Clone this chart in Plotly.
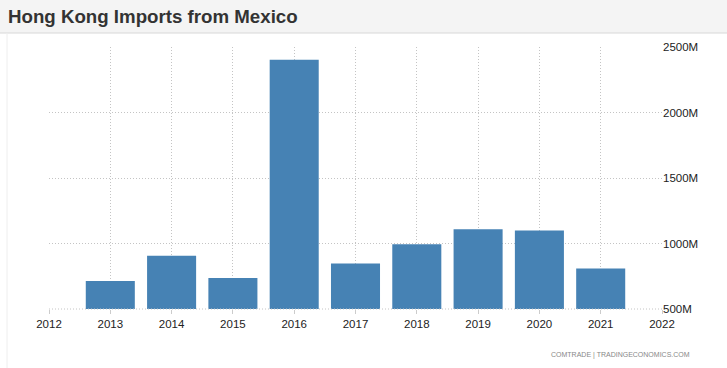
import plotly.graph_objects as go

years = [2013, 2014, 2015, 2016, 2017, 2018, 2019, 2020, 2021]
imports_musd = [714, 907, 737, 2403, 848, 995, 1108, 1100, 810]
x_ticks = list(range(2012, 2023))
y_ticks = [500, 1000, 1500, 2000, 2500]
y_tick_labels = [f"{v}M" for v in y_ticks]

W, H = 727, 368
L, R, T, B = 49, 65, 47, 59
pw, ph = W - L - R, H - T - B

def px_x(X):
    return (X - L) / pw

def px_y(Y):
    return (H - B - Y) / ph

fig = go.Figure()
fig.add_trace(go.Bar(
    x=years, y=imports_musd, width=0.8,
    marker=dict(color="#4682b4", line=dict(width=0)),
    hoverinfo="x+y",
))

font_main = "Liberation Sans Narrow, Arial Narrow, Liberation Sans, Arial, sans-serif"
grid_dash = "1px,2px"

fig.update_layout(
    width=W, height=H,
    margin=dict(l=L, r=R, t=T, b=B),
    paper_bgcolor="white", plot_bgcolor="white",
    showlegend=False,
    title=dict(
        text="<b>Hong Kong Imports from Mexico</b>",
        x=8 / W, xanchor="left", xref="container",
        y=1 - 16 / H, yanchor="middle", yref="container",
        font=dict(family="Liberation Sans, Arial, sans-serif", size=18.7, color="#333333"),
    ),
    xaxis=dict(
        range=[2012, 2022], tickvals=x_ticks, ticktext=[str(v) for v in x_ticks],
        showgrid=True, gridcolor="#c4c4c4", griddash=grid_dash, gridwidth=1,
        zeroline=False, showline=False,
        ticks="outside", ticklen=4, tickcolor="#cccccc",
        tickfont=dict(family=font_main, size=11.5, color="#222222"),
        fixedrange=True,
    ),
    yaxis=dict(
        range=[500, 2500], tickvals=y_ticks, ticktext=y_tick_labels, side="right",
        showgrid=True, gridcolor="#c4c4c4", griddash=grid_dash, gridwidth=1,
        zeroline=False, showline=False,
        tickfont=dict(family=font_main, size=11.5, color="#222222"),
        fixedrange=True,
    ),
    shapes=[
        dict(type="rect", xref="paper", yref="paper",
             x0=px_x(0), x1=px_x(W), y0=px_y(33), y1=px_y(0),
             fillcolor="#f4f4f4", line=dict(width=0), layer="below"),
        dict(type="line", xref="paper", yref="paper",
             x0=px_x(0), x1=px_x(W), y0=px_y(33), y1=px_y(33),
             line=dict(color="#d8d8d8", width=1)),
        dict(type="line", xref="paper", yref="paper",
             x0=px_x(7), x1=px_x(7), y0=px_y(H), y1=px_y(33),
             line=dict(color="#eeeeee", width=1)),
        dict(type="line", xref="paper", yref="paper",
             x0=0, x1=1, y0=0, y1=0,
             line=dict(color="#c4c4c4", width=1, dash=grid_dash)),
    ],
    annotations=[
        dict(text="COMTRADE | TRADINGECONOMICS.COM", xref="paper", yref="paper",
             x=px_x(692), y=px_y(355), xanchor="right", yanchor="middle",
             showarrow=False,
             font=dict(family=font_main, size=7, color="#888888")),
    ],
)

fig.write_html("out.html", config={"displayModeBar": False},
               post_script="document.body.style.margin='0';document.body.style.overflow='hidden';")
